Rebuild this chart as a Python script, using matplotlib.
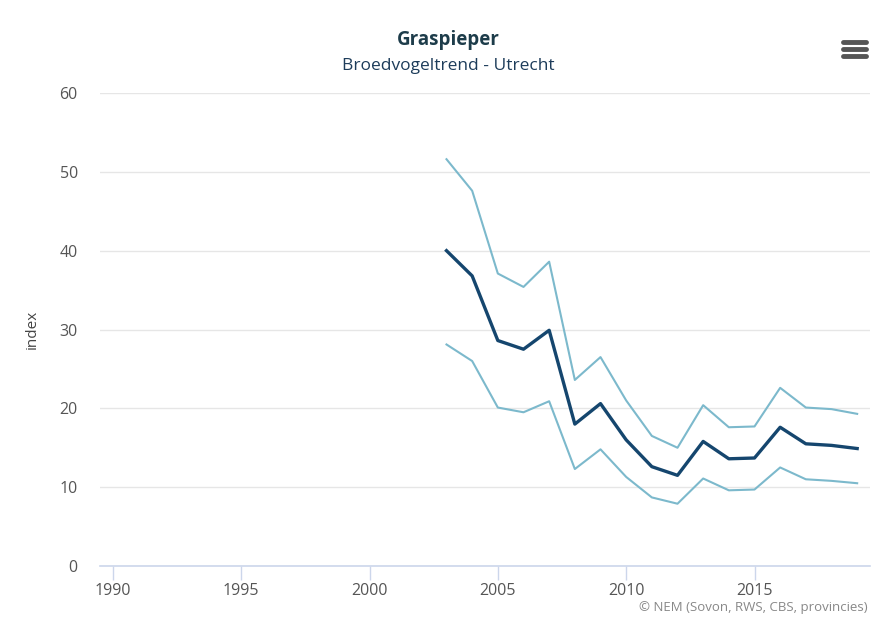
import matplotlib
matplotlib.use("Agg")
import matplotlib.pyplot as plt

years = list(range(2003, 2020))
index_main = [40.0, 36.8, 28.6, 27.5, 29.9, 18.0, 20.6, 16.0, 12.6, 11.5, 15.8, 13.6, 13.7, 17.6, 15.5, 15.3, 14.9]
index_upper = [51.6, 47.6, 37.1, 35.4, 38.6, 23.6, 26.5, 21.0, 16.5, 15.0, 20.4, 17.6, 17.7, 22.6, 20.1, 19.9, 19.3]
index_lower = [28.1, 26.0, 20.1, 19.5, 20.9, 12.3, 14.8, 11.3, 8.7, 7.9, 11.1, 9.6, 9.7, 12.5, 11.0, 10.8, 10.5]
x_ticks = [1990, 1995, 2000, 2005, 2010, 2015]
y_ticks = [0, 10, 20, 30, 40, 50, 60]

plt.rcParams['font.family'] = ['Open Sans', 'DejaVu Sans']

W, H = 881, 619
fig = plt.figure(figsize=(W / 100, H / 100), dpi=100)
ax = fig.add_axes([100 / W, 53 / H, 770 / W, 473 / H])

light = '#7cb9cc'
dark = '#15466e'
ax.plot(years, index_upper, color=light, lw=1.5, solid_joinstyle='round')
ax.plot(years, index_lower, color=light, lw=1.5, solid_joinstyle='round')
ax.plot(years, index_main, color=dark, lw=2.4, solid_joinstyle='round')

ax.set_xlim(1989.5, 2019.5)
ax.set_ylim(0, 60)
ax.set_xticks(x_ticks)
ax.set_yticks(y_ticks)
ax.grid(axis='y', color='#e6e6e6', lw=1)
ax.set_axisbelow(True)
for s in ['top', 'right', 'left']:
    ax.spines[s].set_visible(False)
ax.spines['bottom'].set_color('#ccd6eb')
ax.spines['bottom'].set_linewidth(1.2)
ax.tick_params(axis='x', length=10, width=1, color='#ccd6eb', labelsize=11.5, labelcolor='#555555', pad=2)
ax.tick_params(axis='y', length=0, labelsize=11.5, labelcolor='#555555', pad=16)
ax.set_ylabel('index', fontsize=11, color='#444444', labelpad=14)

fig.text(448 / W, 1 - 40 / H, 'Graspieper', ha='center', va='center', fontsize=13.5, fontweight='bold', color='#1d3c4a')
fig.text(448 / W, 1 - 66 / H, 'Broedvogeltrend - Utrecht', ha='center', va='center', fontsize=12.5, color='#1d3c5a')
fig.text(868 / W, 1 - 607 / H, '\u00a9 NEM (Sovon, RWS, CBS, provincies)', ha='right', va='center', fontsize=9.5, color='#888888')

# hamburger menu icon
for yy in [42, 49, 56]:
    fig.add_artist(plt.Line2D([843 / W, 866 / W], [1 - yy / H, 1 - yy / H], color='#555555', lw=3.5, solid_capstyle='round'))

fig.savefig('out.png', dpi=100)
